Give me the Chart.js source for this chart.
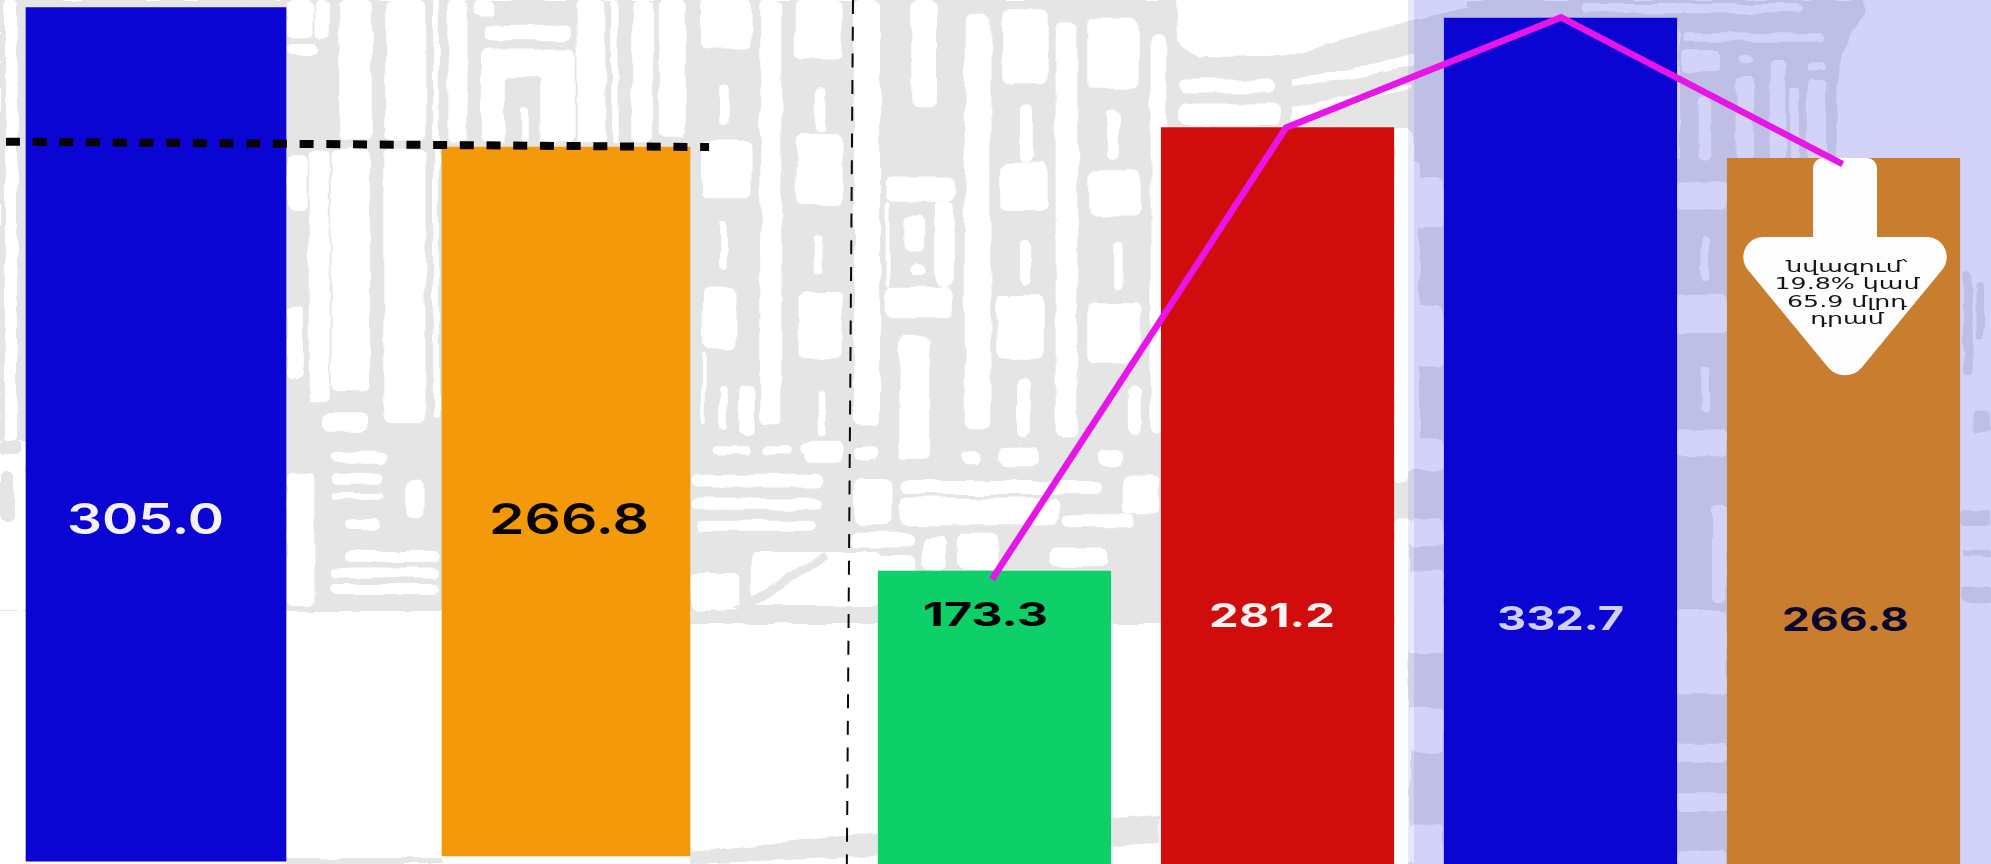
<!DOCTYPE html>
<html>
<head>
<meta charset="utf-8">
<script src="https://cdn.jsdelivr.net/npm/chart.js@4"></script>
<style>
html,body{margin:0;padding:0;background:#fff;overflow:hidden;width:1991px;height:864px}
canvas{position:absolute;display:block}
#tint{position:absolute;left:1414px;top:0;width:577px;height:864px;background:rgba(86,82,232,0.26)}
#tintEdge{position:absolute;left:1408px;top:0;width:6px;height:864px;background:rgba(86,82,232,0.13)}
</style>
</head>
<body>
<svg width="0" height="0" style="position:absolute">
  <filter id="wobble" x="0" y="0" width="100%" height="100%">
    <feTurbulence type="fractalNoise" baseFrequency="0.035" numOctaves="2" seed="4"/>
    <feDisplacementMap in="SourceGraphic" scale="7" xChannelSelector="R" yChannelSelector="G"/>
  </filter>
</svg>
<canvas id="backdrop" width="1991" height="864" style="left:0;top:0;filter:url(#wobble)"></canvas>
<div id="tintEdge"></div><div id="tint"></div>
<canvas id="leftChart" width="909" height="864" style="left:-49px;top:0"></canvas>
<canvas id="rightChart" width="1132" height="864" style="left:853px;top:0"></canvas>
<script>
// ---- data ----
const leftCategories = ["Bar 1", "Bar 2"];
const leftValues = [305.0, 266.8];
const leftLevelValues = [268.3, 266.8];
const leftLevelPositions = [-0.366, 1.349];
const rightCategories = ["Bar 3", "Bar 4", "Bar 5", "Bar 6"];
const rightValues = [173.3, 281.2, 332.7, 266.8];
const trendValues = [171.4, 281.2, 333.0, 265.5];
const trendPositions = [-0.009, 1.03, 2.002, 2.997];
const calloutLines = ["նվազում՝", "19.8% կամ", "65.9 մլրդ", "դրամ"];

// ---- watermark backdrop (decoration, not data). Rect lists use zoomed-view units. ----
const GRAY = "#e5e5e5";
function paintBackdrop() {
  const c = document.getElementById("backdrop").getContext("2d");
  c.fillStyle = "#fff"; c.fillRect(0,0,1991,864);
  c.fillStyle = GRAY;
  c.fillRect(0,0,1395,611);
  c.fillRect(690,600,705,24);
  c.fillRect(1395,0,335,864);
  c.beginPath(); c.moveTo(690,852); c.lineTo(880,832); c.lineTo(1160,815); c.lineTo(1160,843); c.lineTo(880,856); c.lineTo(690,864); c.closePath(); c.fill();
  c.fillRect(286,858,156,6);
  const rect = (x0,y0,x1,y1,col,r) => { c.fillStyle = col; c.beginPath(); c.roundRect(x0,y0,x1-x0,y1-y0,r); c.fill(); };
  const mapA = (x,y)=>[850+x/2.529, y/2.703];
  const poly = (pts,col,map) => { c.fillStyle=col; c.beginPath(); pts.forEach((p,i)=>{const q=map(p[0],p[1]); i?c.lineTo(q[0],q[1]):c.moveTo(q[0],q[1]);}); c.closePath(); c.fill(); };
  poly([[825,0],[1560,0],[1560,20],[1400,60],[1100,150],[880,155],[830,110]],"#fff",mapA);
  poly([[1120,215],[1430,145],[1430,180],[1120,235]],"#fff",mapA);
  poly([[1115,290],[1420,225],[1420,235],[1115,330]],"#fff",mapA);
  rect(5,0,17,440,"#fff",4); rect(0,440,27,610,"#fff",0); rect(0,473,14,520,GRAY,6); rect(0,440,20,455,GRAY,4);
  const mapB = (x,y)=>[280+x/2.613, y/1.815];
  const listB = [
   [18,0,85,70],[18,80,100,100],[90,0,130,72],[155,0,240,255],[275,0,382,255],[440,0,490,258],[535,45,760,75],[525,90,770,258],
   [775,0,850,258],[865,0,882,258],[920,0,975,258],[990,0,1060,250],[505,0,560,30],
   [1100,0,1232,88],[1255,0,1310,770],[1345,0,1470,108],[1500,0,1568,770],[1100,255,1232,360],[1105,520,1190,632],[1350,245,1470,372],[1355,530,1470,650],[1370,800,1470,840],
   [18,280,70,385],[75,270,130,730],[135,270,235,710],[270,270,380,770],[18,555,60,690],[400,0,415,760],
   [18,860,90,1100],[110,750,230,782],[135,820,280,840],[135,860,270,880],[135,895,270,907],[170,940,260,960],[330,870,375,940],[170,1000,418,1020],[135,1030,418,1050],[130,1062,418,1080],
   [1075,860,1420,885],[1075,905,1420,925],[1090,945,1400,965],[1075,1040,1200,1110],[1230,1000,1568,1100],[1260,810,1340,825],[1360,805,1450,825],[1500,810,1560,830],[1130,810,1230,825],
   [1200,700,1240,790],[1100,640,1110,770]
  ];
  listB.forEach(r=>{const a=mapB(r[0],r[1]),b=mapB(r[2],r[3]); rect(a[0],a[1],b[0],b[1],"#fff",6);});
  const grayB = [[585,140,680,258],[1400,700,1435,800]];
  grayB.forEach(r=>{const a=mapB(r[0],r[1]),b=mapB(r[2],r[3]); rect(a[0],a[1],b[0],b[1],GRAY,4);});
  const slitB = [[630,195,650,258],[1150,155,1175,225],[1400,160,1425,240],[1150,400,1170,490],[1400,425,1420,500],[1150,700,1170,780],[1405,710,1425,790]];
  slitB.forEach(r=>{const a=mapB(r[0],r[1]),b=mapB(r[2],r[3]); rect(a[0],a[1],b[0],b[1],"#fff",4);});
  poly([[1180,1105],[1420,1000],[1430,1012],[1220,1110]],GRAY,mapB);
  const listA = [
   [10,0,60,1150],[155,0,220,290],[290,40,355,1160],[385,25,500,225],[430,280,460,440],[380,440,500,570],[430,645,458,770],[370,800,490,970],[425,1025,455,1180],
   [520,60,575,1180],[600,50,730,240],[650,295,680,430],[605,460,735,585],[668,650,692,785],[600,820,735,980],[700,1045,735,1175],[760,90,800,1170],
   [90,480,265,545],[90,775,260,860],[90,545,100,775],[215,545,265,775],[135,580,190,680],[150,710,190,745],[125,910,200,1240],
   [10,1205,65,1245],[285,1220,330,1255],[375,1210,475,1260],[630,1215,690,1260],[10,1295,105,1420],[125,1300,640,1335],[125,1345,530,1420],[540,1390,720,1425],[690,1285,780,1390],
   [185,1450,245,1540],[270,1440,375,1540],[500,1480,650,1530],[835,215,1070,250],[830,280,1090,340],[1375,340,1425,1280],[0,1440,165,1480],
   [0,1500,165,1568]
  ];
  listA.forEach(r=>{const a=mapA(r[0],r[1]),b=mapA(r[2],r[3]); rect(a[0],a[1],b[0],b[1],"#fff",7);});
  const mapC = (x,y)=>[1390+x/2.609, 160+y/2.227];
  const listC = [
   [10,0,78,690],[8,560,50,720],[10,800,50,1568],
   [50,40,140,150],[50,325,140,460],[50,620,140,690],[50,800,140,860],[50,915,140,1100],[50,1220,140,1320],[50,1480,140,1568],
   [745,50,880,110],[745,300,880,385],[745,600,880,660],[840,770,880,985],[745,1000,880,1190],[745,1300,880,1340],[745,1410,880,1450],[745,1540,880,1568],
   [810,170,830,270],[815,460,835,560]
  ];
  listC.forEach(r=>{const a=mapC(r[0],r[1]),b=mapC(r[2],r[3]); rect(a[0],a[1],b[0],b[1],"#fff",5);});
  const mapD = (x,y)=>[1380+x/2.566, y/3];
  c.fillStyle="#fff"; c.fillRect(1675,0,60,159);
  poly([[770,90],[1000,50],[1240,40],[1180,170],[1170,480],[770,480]],GRAY,mapD);
  poly([[520,0],[1240,0],[1240,45],[770,100],[760,60]],GRAY,mapD);
  const listD = [[515,12,1085,40],[775,100,1140,125],[775,150,870,220],[815,290,850,480],[915,230,960,480],[1000,180,1040,480],[1050,260,1075,480],[1095,240,1145,480],[920,165,960,190],[1100,190,1140,210]];
  listD.forEach(r=>{const a=mapD(r[0],r[1]),b=mapD(r[2],r[3]); rect(a[0],a[1],b[0],b[1],"#fff",5);});
  const grayC = [[1495,250,1520,480],[1530,270,1550,400],[1490,780,1568,815],[1490,870,1568,885],[1490,950,1568,985],[1520,560,1568,610]];
  grayC.forEach(r=>{const a=mapC(r[0],r[1]),b=mapC(r[2],r[3]); rect(a[0],a[1],b[0],b[1],GRAY,5);});
}
paintBackdrop();

// ---- axis whose lower part is stretched below a knee value, as the picture's bars are ----
class KneeScale extends Chart.LinearScale {
  warp(v){ const o=this.options; return v>=o.knee ? v : o.knee-(o.knee-v)*o.stretch; }
  getPixelForValue(v){ return super.getPixelForValue(this.warp(v)); }
}
KneeScale.id = "kneeLinear";
KneeScale.defaults = {};
Chart.register(KneeScale);

// ---- labels ----
const valueLabels = {
  id:"valueLabels",
  afterDatasetsDraw(chart,args,opts){
    const c=chart.ctx;
    const ox=chart.canvas.offsetLeft;
    opts.items.forEach(it=>{
      c.save();
      c.font=it.font; c.fillStyle=it.color; c.textAlign="left"; c.textBaseline="alphabetic";
      const w=c.measureText(it.text).width;
      c.translate(it.x-ox,it.y); c.scale(it.w/w,1);
      c.fillText(it.text,0,0);
      c.restore();
    });
  }
};
function roundedPath(c,pts){
  const n=pts.length;
  const s=pts[0], e=pts[n-1];
  c.beginPath(); c.moveTo((s[0]+e[0])/2,(s[1]+e[1])/2);
  for(let i=0;i<n;i++){const p=pts[i],q=pts[(i+1)%n]; c.arcTo(p[0],p[1],q[0],q[1],p[2]);}
  c.closePath();
}
const calloutArrow = {
  id:"calloutArrow",
  afterDatasetDraw(chart,args){
    if(args.meta.type!=="bar") return;
    const c=chart.ctx, ox=chart.canvas.offsetLeft;
    c.save(); c.translate(-ox,0);
    c.fillStyle="#fefdfd";
    roundedPath(c,[[1813,158,10],[1877,158,10],[1877,237,0.1],[1969,237,20],[1845,388,22],[1721,237,20],[1813,237,0.1]]);
    c.fill();
    c.font="16px 'DejaVu Sans'"; c.fillStyle="#141414"; c.textAlign="center"; c.textBaseline="middle";
    const ys=[268,285,303,320];
    const stretch=145/c.measureText(calloutLines[1]).width;
    calloutLines.forEach((t,i)=>{ c.save(); c.translate(1847,ys[i]); c.scale(stretch,1); c.fillText(t,0,0); c.restore(); });
    c.restore();
  }
};

new Chart(document.getElementById("leftChart"),{
  type:"bar",
  data:{labels:leftCategories,datasets:[
    {data:[leftValues[0],null],backgroundColor:"#0a05d2",barThickness:260,base:71.2,grouped:false,order:3},
    {data:[null,leftValues[1]],backgroundColor:"#f49a0a",barThickness:248,base:72.6,grouped:false,order:3},
    {type:"line",xAxisID:"xLine",data:leftLevelPositions.map((x,i)=>({x,y:leftLevelValues[i]})),borderColor:"#0a0305",borderWidth:8,borderDash:[14,12.7],pointRadius:0,clip:false,order:1},
    {type:"line",xAxisID:"xLine",data:[{x:1.700,y:307.1},{x:1.685,y:70.4}],borderColor:"#0a0a0a",borderWidth:2,borderDash:[14,12.7],pointRadius:0,clip:false,order:1}
  ]},
  options:{
    responsive:false,animation:false,
    layout:{padding:{left:0,right:89,top:0,bottom:0}},
    plugins:{legend:{display:false},tooltip:{enabled:false},
      valueLabels:{items:[
        {text:leftValues[0].toFixed(1),x:67,y:534,w:157,font:"600 43px Inter",color:"#f4f2f6"},
        {text:leftValues[1].toFixed(1),x:489,y:534,w:160,font:"600 43px Inter",color:"#080404"}
      ]}},
    scales:{
      x:{type:"category",display:false},
      xLine:{type:"linear",display:false,offset:false,min:-0.5,max:1.5,position:"top"},
      y:{type:"linear",display:false,min:70.4,max:307.1,bounds:"data"}
    }
  },
  plugins:[valueLabels]
});
new Chart(document.getElementById("rightChart"),{
  type:"bar",
  data:{labels:rightCategories,datasets:[
    {data:rightValues,backgroundColor:["#0ed068","#d00c0c","#0a05d2","#c97d2e"],barThickness:232.5,base:100,grouped:false,order:3},
    {type:"line",xAxisID:"xLine",data:trendPositions.map((x,i)=>({x,y:trendValues[i]})),borderColor:"#e815e8",borderWidth:6.5,tension:0,pointRadius:0,clip:false,order:1,borderCapStyle:"butt",borderJoinStyle:"miter"}
  ]},
  options:{
    responsive:false,animation:false,
    layout:{padding:0},
    plugins:{legend:{display:false},tooltip:{enabled:false},
      valueLabels:{items:[
        {text:rightValues[0].toFixed(1),x:923,y:626,w:125,font:"700 33px Inter",color:"#030308"},
        {text:rightValues[1].toFixed(1),x:1209,y:627,w:126,font:"700 33px Inter",color:"#f8f2f2"},
        {text:rightValues[2].toFixed(1),x:1497,y:630,w:127,font:"700 33px Inter",color:"#d0cff5"},
        {text:rightValues[3].toFixed(1),x:1782,y:631,w:127,font:"700 33px Inter",color:"#0a0630"}
      ]}},
    scales:{
      x:{type:"category",display:false},
      xLine:{type:"linear",display:false,offset:false,min:-0.5,max:3.5,position:"top"},
      y:{type:"kneeLinear",display:false,min:-64.5,max:341.15,bounds:"data",knee:266.8,stretch:2.072}
    }
  },
  plugins:[calloutArrow,valueLabels]
});
</script>
</body>
</html>
